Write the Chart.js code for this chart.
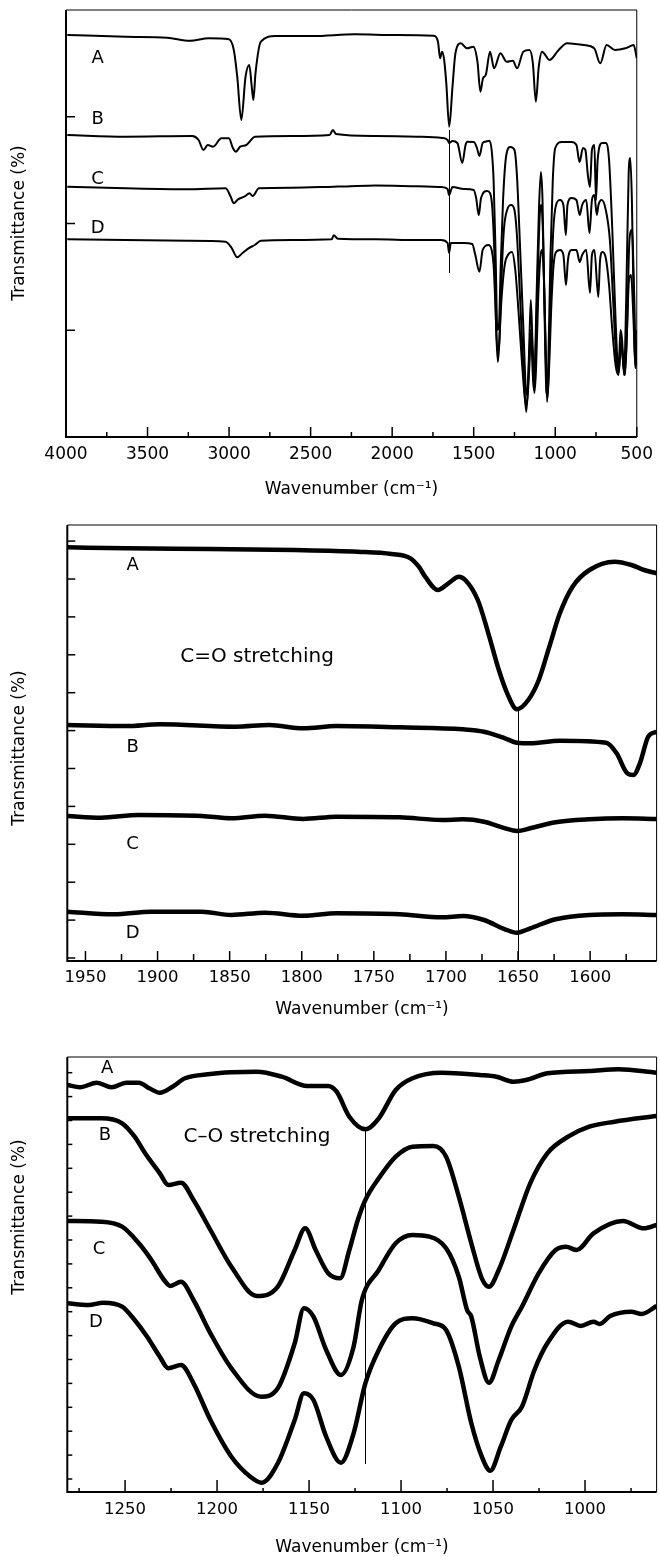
<!DOCTYPE html>
<html>
<head>
<meta charset="utf-8">
<script src="https://cdn.jsdelivr.net/npm/chart.js@4.4.0/dist/chart.umd.min.js"></script>
<style>
  body { margin: 0; background: #fff; width: 660px; height: 1557px; position: relative; overflow: hidden; }
  canvas { position: absolute; left: 0; }
</style>
</head>
<body>
<canvas id="c1" width="660" height="505" style="top:0px"></canvas>
<canvas id="c2" width="660" height="517" style="top:505px"></canvas>
<canvas id="c3" width="660" height="535" style="top:1022px"></canvas>
<script>
// ---------- panel 1 : full range 4000-500 cm-1 (wavenumber, offset transmittance) ----------
const ticks1 = [4000, 3500, 3000, 2500, 2000, 1500, 1000, 500];

const specA1 = [[3992,402],[3634,400.3],[3379,399.3],[3239,396.3],[3124,398.7],[3001,397.7],[2971,387],[2950,360.3],
  [2925,317],[2899,360.3],[2876,372],[2861,350.3],[2851,337],[2838,363.7],[2805,395.3],[2715,401],[2485,401],
  [2230,402.7],[1974,402],[1745,401.3],[1719,395.3],[1706,378.7],[1694,385.3],[1681,377],[1668,353.7],[1650,310.3],
  [1630,350.3],[1612,383.7],[1579,393.7],[1541,388.7],[1502,390.3],[1477,375.3],[1459,345.3],[1443,358.7],[1426,362],
  [1400,385.3],[1375,368.7],[1336,383.7],[1298,375.3],[1260,376.3],[1234,368.7],[1196,385.3],[1158,387],[1137,373.7],
  [1119,335.3],[1101,370.3],[1081,385.3],[1035,377],[979,387],[927,393.7],[876,393],[825,392],[761,388.7],[724,373.7],
  [685,392],[634,387],[570,388.7],[519,392],[500,378.7]];

const specB1 = [[3992,302],[3634,300.3],[3226,301],[3187,297],[3157,287],[3131,292],[3098,290.3],[3047,298.7],
  [3001,298.7],[2976,288.7],[2958,285.3],[2932,290.3],[2894,292],[2874,295.3],[2843,300.3],[2613,301],[2384,302],
  [2363,307],[2345,303],[2103,301],[1847,300.3],[1694,299],[1660,297],[1651,294],[1630,296],[1600,294],[1570,274],
  [1550,292],[1539,295.3],[1499,295],[1480,289],[1465,281],[1445,294],[1428,295.3],[1404,296.3],[1390,287],[1378,257],
  [1365,177],[1355,107],[1345,112],[1335,167],[1320,237],[1300,282],[1275,290],[1250,287],[1235,262],[1215,187],
  [1195,107],[1180,47],[1172,42],[1160,87],[1150,137],[1140,97],[1128,57],[1115,137],[1100,227],[1088,265],[1078,237],
  [1068,147],[1055,47],[1050,42],[1042,77],[1030,177],[1015,257],[1000,289],[960,295],[900,295],[870,292],[851,275],
  [830,289],[815,287],[800,262],[787,250],[775,287],[760,292],[750,237],[740,277],[713,294],[690,294],[670,277],
  [650,207],[630,117],[612,64],[600,107],[590,97],[578,62],[565,137],[550,262],[540,279],[530,237],[515,97],[507,69],[500,107]];

const specC1 = [[3992,250.3],[3634,248.7],[3251,247.7],[3021,248.7],[2990,240.3],[2971,233.7],[2945,237.7],[2907,240.3],
  [2874,243.7],[2856,241],[2817,248.7],[2613,249.3],[2358,250.3],[2282,250.6],[2103,251.5],[1847,250.8],[1700,250],[1660,248],
  [1651,242],[1630,250],[1560,248],[1500,247],[1485,239],[1469,222],[1455,239],[1418,246],[1400,244],[1385,227],
  [1372,177],[1362,107],[1352,75],[1342,97],[1330,157],[1315,207],[1295,227],[1270,232],[1250,227],[1235,202],
  [1215,137],[1195,67],[1178,25],[1165,57],[1152,107],[1145,92],[1132,47],[1122,77],[1108,157],[1095,222],[1085,232],
  [1075,202],[1062,107],[1050,35],[1040,67],[1028,137],[1012,207],[995,232],[970,237],[950,232],[935,202],[925,232],
  [900,239],[870,237],[850,222],[835,232],[810,237],[790,204],[775,237],[760,242],[745,222],[735,232],[715,237],
  [690,227],[665,197],[645,137],[625,77],[610,65],[595,97],[585,77],[572,62],[560,107],[545,197],[530,207],[515,137],
  [505,72],[500,97]];

const specD1 = [[3992,197.7],[3634,197],[3251,196.3],[3021,195.3],[2983,188.7],[2950,179.7],[2919,183.7],[2881,188.7],
  [2843,192],[2805,196.3],[2613,197],[2371,197.7],[2358,201.7],[2333,198.3],[2103,197.7],[1847,197],[1700,197],
  [1660,194],[1651,184.3],[1640,194],[1560,194],[1509,193],[1490,182],[1465,165.3],[1445,187],[1410,192],[1390,187],
  [1378,172],[1368,137],[1355,87],[1345,92],[1330,137],[1310,172],[1290,182],[1265,185],[1245,167],[1225,125],
  [1205,77],[1185,37],[1175,32],[1160,67],[1150,97],[1140,87],[1128,44],[1118,67],[1105,137],[1090,182],[1080,187],
  [1070,162],[1058,87],[1048,39],[1038,67],[1025,127],[1010,172],[995,185],[970,187],[950,182],[934,152],[922,177],
  [900,187],[870,187],[850,175],[835,182],[810,187],[787,144],[775,182],[760,187],[736,140],[725,177],[710,185],
  [690,179],[670,152],[650,107],[630,72],[612,62],[600,92],[590,87],[575,62],[562,97],[548,157],[535,162],[520,117],
  [508,69],[500,87]];

// ---------- panel 2 : C=O region ----------
const ticks2 = [1950, 1900, 1850, 1800, 1750, 1700, 1650, 1600];

const specA2 = [[1962.6,413.7],[1921.7,412.7],[1863.3,412],[1804.9,411],[1761.1,409.3],[1737.7,407],[1724.6,402.7],
  [1718.8,394.3],[1714.4,384.3],[1705.6,371],[1698.3,377.7],[1691,384.3],[1686.6,381],[1677.9,361],[1670.6,327.7],
  [1663.3,291],[1657.5,267.7],[1650.8,251.7],[1642.9,261],[1635.6,281],[1628.3,314.3],[1621,347.7],[1612.2,374.3],
  [1600.5,391],[1583,399.3],[1571.3,396],[1562.6,391],[1553.9,387.7]];

const specB2 = [[1962.6,236],[1921.7,235],[1898.4,236.7],[1845.8,234.3],[1822.5,236],[1799.1,232.7],[1775.8,235],
  [1732,233.7],[1688.2,231.7],[1673.6,229.3],[1659,222.7],[1650.8,218.3],[1641.5,217.7],[1621,220.3],[1588.9,218.3],
  [1581.6,207.7],[1574.3,187.7],[1569.9,186],[1565.5,197.7],[1559.7,224.3],[1553.9,229.3]];

const specC2 = [[1962.6,145],[1939.2,143.3],[1913,146],[1869.2,145],[1848.8,142.7],[1825.4,145.3],[1799.1,142],
  [1775.8,144.3],[1732,143.7],[1702.8,141],[1688.2,141.7],[1673.6,139.3],[1659,132.7],[1650.8,130],[1641.5,132.7],
  [1624,138.7],[1600.5,141.7],[1577.2,142.7],[1553.9,142]];

const specD2 = [[1962.6,49.3],[1930.5,46.7],[1904.2,49.3],[1869.2,49.3],[1848.8,46],[1825.4,48.3],[1799.1,45.3],
  [1775.8,47.7],[1732,46.7],[1702.8,43.7],[1688.2,45],[1673.6,41],[1659,31.7],[1650.8,28.3],[1641.5,32.7],
  [1624,41.7],[1600.5,46],[1577.2,46.7],[1553.9,46]];

// ---------- panel 3 : C-O region ----------
const ticks3 = [1250, 1200, 1150, 1100, 1050, 1000];

const specA3 = [[1281.4,407],[1274.5,404.7],[1265.4,409.3],[1257.3,404.7],[1249.4,409.3],[1242.5,409.3],[1236.8,403.7],
  [1231.1,399.3],[1224.2,405.3],[1217.4,413.7],[1203.6,418],[1192.2,419.7],[1178.4,420.3],[1164.8,415.3],[1151,406],
  [1139.6,406],[1135,400.3],[1128.1,375.3],[1119.4,362.7],[1112.1,373.7],[1102.9,402],[1093.8,413.7],[1077.8,419.3],
  [1057.2,417],[1048.1,415.3],[1038.9,410.3],[1032,412],[1020.5,418.7],[997.7,421],[981.7,422.7],[961.1,419.3]];

const specB3 = [[1281.4,373.7],[1263.1,373.7],[1251.6,368.7],[1244.8,355.3],[1239.1,338.7],[1231.1,318.7],[1226.5,307],
  [1219.6,309.3],[1212.8,292],[1203.6,262],[1192.2,225.3],[1178.4,196],[1167,205.3],[1157.8,242],[1152.1,263.7],
  [1146.4,242],[1139.6,218.7],[1133.1,213.7],[1128.1,242],[1123.5,272],[1119.4,292],[1112.1,313.7],[1102.9,335.3],
  [1093.8,345.3],[1082.4,346],[1075.5,335.3],[1068.6,295.3],[1061.8,248.7],[1056.1,213.7],[1052.2,205.3],[1046.9,222],
  [1038.9,262],[1029.8,308.7],[1020.5,338.7],[1009.2,355.3],[997.7,365.3],[984,370.3],[961.1,376]];

const specC3 = [[1281.4,271],[1263.1,270.3],[1251.6,265.3],[1242.5,248.7],[1235.7,232],[1228.8,212],[1225.4,206],
  [1219.6,210.3],[1212.8,192],[1203.6,158.7],[1192.2,123.7],[1176.1,95.3],[1167,103.7],[1157.8,148.7],[1152.8,183.7],
  [1147.6,175.3],[1140.7,142],[1132.7,117],[1125.8,145.3],[1121.3,192],[1112.1,222],[1102.9,248.7],[1093.8,257],
  [1084.6,255.3],[1075.5,243.7],[1068.6,215.3],[1064.1,182],[1061.8,175.3],[1057.2,135.3],[1052.2,109.3],[1046.9,132],
  [1040.1,165.3],[1034.3,185.3],[1025.2,218.7],[1016,242],[1010.3,245.3],[1004.6,242],[995.4,258.7],[979.4,271],
  [968,263.7],[961.1,267]];

const specD3 = [[1281.4,188.7],[1269.9,187],[1261.9,189.3],[1251.6,185.3],[1244.8,172],[1238,155.3],[1231.1,135.3],
  [1226.5,123.7],[1219.6,127],[1212.8,108.7],[1203.6,72],[1192.2,35.3],[1181.9,15.3],[1175.7,9.3],[1167,28.7],
  [1157.8,72],[1152.8,98.7],[1147.6,92],[1140.7,55.3],[1132.7,29.3],[1125.8,58.7],[1119.4,108.7],[1112.1,142],
  [1102.9,168.7],[1093.8,173.7],[1082.4,168.7],[1075.5,162],[1068.6,125.3],[1061.8,68.7],[1056.1,35.3],[1051.5,21.3],
  [1045.8,45.3],[1040.1,72],[1034.3,85.3],[1027.5,122],[1020.5,148.7],[1009.2,170.3],[1002.3,166],[995.4,170.3],
  [992,168],[986.3,176],[974.9,180.3],[969.2,178],[961.1,186]];

const FONT = 'DejaVu Sans';

// frame, inward ticks, marker line and text labels
const framePlugin = {
  id: 'frame',
  afterDatasetsDraw(chart, args, o) {
    const ctx = chart.ctx, a = chart.chartArea;
    const xs = chart.scales.x, ys = chart.scales.y;
    ctx.save();
    ctx.strokeStyle = '#000';
    ctx.lineWidth = 1;
    ctx.beginPath();
    ctx.moveTo(a.left, a.top); ctx.lineTo(a.right, a.top); ctx.lineTo(a.right, a.bottom);
    ctx.stroke();
    ctx.lineWidth = 2;
    ctx.beginPath();
    ctx.moveTo(a.left, a.top); ctx.lineTo(a.left, a.bottom); ctx.lineTo(a.right, a.bottom);
    ctx.stroke();

    ctx.lineWidth = 1.5;
    const lo = Math.min(xs.min, xs.max), hi = Math.max(xs.min, xs.max);
    for (let w = Math.ceil(lo / o.minorStep) * o.minorStep; w <= hi + 1e-6; w += o.minorStep) {
      const px = xs.getPixelForValue(w);
      const len = Math.abs(w % o.majorStep) < 1e-6 ? o.majorLen : o.minorLen;
      ctx.beginPath(); ctx.moveTo(px, a.bottom); ctx.lineTo(px, a.bottom - len); ctx.stroke();
    }
    for (let k = 0; k < o.yCount; k++) {
      const py = ys.getPixelForValue(o.yStart + k * o.yStep);
      ctx.beginPath(); ctx.moveTo(a.left, py); ctx.lineTo(a.left + o.yLen, py); ctx.stroke();
    }

    // reference line
    ctx.lineWidth = 1;
    ctx.strokeStyle = '#000';
    const mx = Math.round(xs.getPixelForValue(o.marker.x)) + 0.5;
    ctx.beginPath();
    ctx.moveTo(mx, ys.getPixelForValue(o.marker.from));
    ctx.lineTo(mx, ys.getPixelForValue(o.marker.to));
    ctx.stroke();

    ctx.fillStyle = '#000';
    ctx.textAlign = 'center';
    ctx.textBaseline = 'middle';
    o.labels.forEach(l => {
      ctx.font = l.size + 'px "' + FONT + '"';
      ctx.fillText(l.text, xs.getPixelForValue(l.x), ys.getPixelForValue(l.y));
    });

    // y title
    ctx.font = '17px "' + FONT + '"';
    ctx.translate(o.yTitleX, ys.getPixelForValue(o.yTitleAt));
    ctx.rotate(-Math.PI / 2);
    ctx.fillText('Transmittance (%)', 0, 0);
    ctx.restore();
  }
};

function spectrum(pairs, width) {
  return {
    data: pairs.map(p => ({ x: p[0], y: p[1] })),
    borderColor: '#000',
    borderWidth: width,
    pointRadius: 0,
    cubicInterpolationMode: 'monotone',
    fill: false
  };
}

function makeChart(id, p) {
  return new Chart(document.getElementById(id), {
    type: 'line',
    data: { datasets: p.series.map(s => spectrum(s, p.lineWidth)) },
    plugins: [framePlugin],
    options: {
      responsive: false,
      animation: false,
      events: [],
      layout: { padding: p.padding },
      plugins: { legend: { display: false }, tooltip: { enabled: false }, frame: p.frame },
      scales: {
        x: {
          type: 'linear', reverse: true, bounds: 'data', min: p.xMin, max: p.xMax,
          grid: { display: false, drawTicks: false }, border: { display: false },
          afterBuildTicks: s => { s.ticks = p.ticks.map(v => ({ value: v })); },
          ticks: {
            autoSkip: false, maxRotation: 0, padding: p.tickPad, color: '#000',
            font: { family: FONT, size: p.tickSize },
            callback: v => String(v)
          },
          title: {
            display: true, text: 'Wavenumber (cm\u207B\u00B9)', color: '#000', padding: 0,
            font: { family: FONT, size: 17, lineHeight: 1 }
          },
          afterFit: s => { s.height = p.axisH; }
        },
        y: {
          type: 'linear', bounds: 'data', min: 0, max: p.yMax,
          grid: { display: false, drawTicks: false }, border: { display: false },
          ticks: { display: false },
          afterFit: s => { s.width = 0; }
        }
      }
    }
  });
}

makeChart('c1', {
  series: [specA1, specB1, specC1, specD1], lineWidth: 2,
  xMin: 500, xMax: 4000, yMax: 427, ticks: ticks1, tickPad: 7, tickSize: 17, axisH: 61.5,
  padding: { left: 66, right: 17, top: 10, bottom: 6.5 },
  frame: {
    minorStep: 250, majorStep: 500, majorLen: 10, minorLen: 5,
    yStart: 106.75, yStep: 106.75, yCount: 3, yLen: 9,
    marker: { x: 1652, from: 307, to: 164 },
    yTitleX: 20, yTitleAt: 214,
    labels: [
      { text: 'A', x: 3806, y: 379, size: 18 },
      { text: 'B', x: 3806, y: 318, size: 18 },
      { text: 'C', x: 3806, y: 258, size: 18 },
      { text: 'D', x: 3806, y: 209, size: 18 }
    ]
  }
});

makeChart('c2', {
  series: [specA2, specB2, specC2, specD2], lineWidth: 4.5,
  xMin: 1553.9, xMax: 1962.6, yMax: 436, ticks: ticks2, tickPad: 7, tickSize: 16.5, axisH: 57.5,
  padding: { left: 67.3, right: 3.4, top: 20, bottom: 3.5 },
  frame: {
    minorStep: 25, majorStep: 50, majorLen: 10, minorLen: 7,
    yStart: 3, yStep: 37.9, yCount: 12, yLen: 8,
    marker: { x: 1650, from: 251.7, to: 0 },
    yTitleX: 20, yTitleAt: 213,
    labels: [
      { text: 'A', x: 1917.3, y: 396, size: 18 },
      { text: 'B', x: 1917.3, y: 214, size: 18 },
      { text: 'C', x: 1917.3, y: 117, size: 18 },
      { text: 'D', x: 1917.3, y: 28, size: 18 },
      { text: 'C=O stretching', x: 1831, y: 304, size: 20 }
    ]
  }
});

makeChart('c3', {
  series: [specA3, specB3, specC3, specD3], lineWidth: 4.5,
  xMin: 961.1, xMax: 1281.4, yMax: 435, ticks: ticks3, tickPad: 8, tickSize: 16.5, axisH: 64,
  padding: { left: 67.3, right: 3.4, top: 35, bottom: 1 },
  frame: {
    minorStep: 25, majorStep: 50, majorLen: 12, minorLen: 4,
    yStart: 13, yStep: 23.9, yCount: 18, yLen: 5,
    marker: { x: 1119.5, from: 362.7, to: 28 },
    yTitleX: 20, yTitleAt: 275,
    labels: [
      { text: 'A', x: 1259.8, y: 424, size: 18 },
      { text: 'B', x: 1260.9, y: 357, size: 18 },
      { text: 'C', x: 1264.2, y: 243, size: 18 },
      { text: 'D', x: 1265.8, y: 170, size: 18 },
      { text: 'C\u2013O stretching', x: 1178.3, y: 355, size: 20 }
    ]
  }
});
</script>
</body>
</html>
